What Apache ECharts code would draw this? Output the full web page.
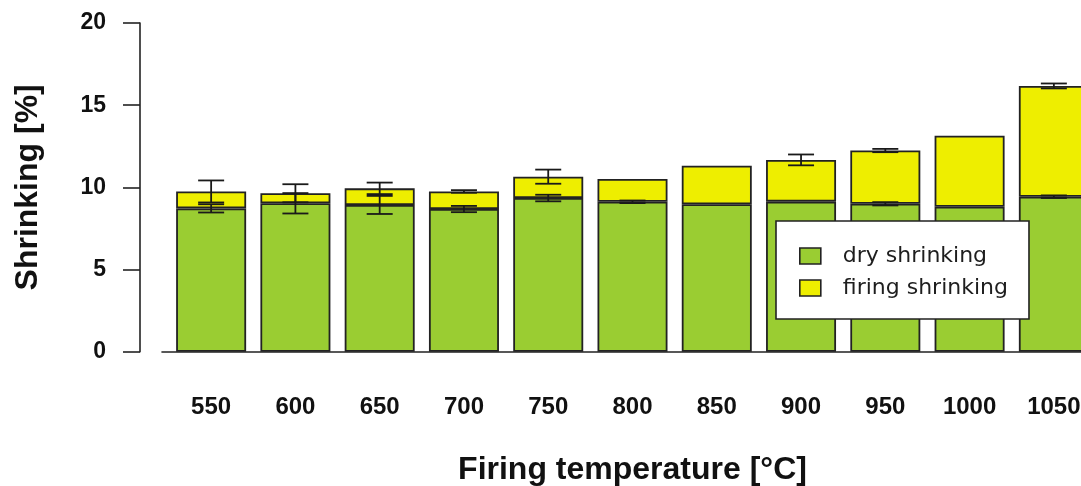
<!DOCTYPE html>
<html>
<head>
<meta charset="utf-8">
<script src="https://cdn.jsdelivr.net/npm/echarts@6/dist/echarts.min.js"></script>
<style>html,body{margin:0;padding:0;background:#fff;}#c{width:1081px;height:486px;}</style>
</head>
<body>
<div id="c"></div>
<script>
const categories = ['550', '600', '650', '700', '750', '800', '850', '900', '950', '1000', '1050'];
const dryShrinking = [8.72, 9.03, 8.93, 8.68, 9.35, 9.12, 8.97, 9.13, 9.00, 8.82, 9.43];
const firingShrinking = [1.03, 0.61, 1.01, 1.07, 1.30, 1.39, 2.35, 2.54, 3.24, 4.32, 6.74];
const dryError = [0.25, 0.62, 0.55, 0.19, 0.20, 0.08, 0, 0, 0.10, 0, 0.08];
const totalError = [0.67, 0.55, 0.35, 0.08, 0.43, 0, 0, 0.33, 0.10, 0, 0.15];
const yMin = 0, yMax = 20, yStep = 5;

const errData = [];
categories.forEach((c, i) => {
  errData.push([i, dryShrinking[i], dryError[i]]);
  errData.push([i, dryShrinking[i] + firingShrinking[i], totalError[i]]);
});

const FONT = '"Liberation Sans", Arial, sans-serif';
const INK = '#222222';

const chart = echarts.init(document.getElementById('c'), null, {renderer: 'canvas'});
chart.setOption({
  animation: false,
  backgroundColor: '#ffffff',
  grid: [
    {left: 169, width: 927, top: 23, height: 328.7, containLabel: false, outerBoundsMode: 'none'},
    {left: 162, width: 934, top: 23, height: 328.7, containLabel: false, outerBoundsMode: 'none'}
  ],
  legend: {
    data: ['dry shrinking', 'firing shrinking'],
    orient: 'vertical',
    left: 776, top: 221,
    padding: [24, 21, 20, 23],
    itemWidth: 21, itemHeight: 16, itemGap: 10,
    icon: 'rect',
    backgroundColor: '#ffffff',
    borderColor: INK, borderWidth: 1.6, borderRadius: 0,
    itemStyle: {borderColor: INK, borderWidth: 1.6},
    textStyle: {fontFamily: '"DejaVu Sans", sans-serif', fontSize: 22, color: '#1e1e1e', padding: [0, 0, 0, 17]}
  },
  xAxis: [
    {
      type: 'category', gridIndex: 0, data: categories,
      boundaryGap: true,
      axisLine: {show: false}, axisTick: {show: false},
      axisLabel: {fontFamily: FONT, fontWeight: 'bold', fontSize: 24, color: '#111', margin: 44},
      name: 'Firing temperature [°C]', nameLocation: 'middle', nameGap: 102,
      nameTextStyle: {fontFamily: FONT, fontWeight: 'bold', fontSize: 32, color: '#111'}
    },
    {
      type: 'value', gridIndex: 1, min: 0, max: 1,
      axisLine: {show: true, lineStyle: {color: INK, width: 1.6}},
      axisTick: {show: false}, axisLabel: {show: false}, splitLine: {show: false}
    }
  ],
  yAxis: [
    {
      type: 'value', gridIndex: 0, min: yMin, max: yMax, interval: yStep,
      offset: 29,
      axisLine: {show: true, lineStyle: {color: INK, width: 1.6}},
      axisTick: {show: true, length: 17, lineStyle: {color: INK, width: 1.6}},
      axisLabel: {fontFamily: FONT, fontWeight: 'bold', fontSize: 23, color: '#111', margin: 34},
      splitLine: {show: false},
      name: 'Shrinking [%]', nameLocation: 'middle', nameGap: 96,
      nameTextStyle: {fontFamily: FONT, fontWeight: 'bold', fontSize: 32, color: '#111'}
    },
    {type: 'value', gridIndex: 1, show: false, min: 0, max: 1}
  ],
  series: [
    {
      name: 'dry shrinking', type: 'bar', stack: 'total', xAxisIndex: 0, yAxisIndex: 0,
      data: dryShrinking, barWidth: 70,
      itemStyle: {color: '#9ACD32', borderColor: INK, borderWidth: 1.8}
    },
    {
      name: 'firing shrinking', type: 'bar', stack: 'total', xAxisIndex: 0, yAxisIndex: 0,
      data: firingShrinking, barWidth: 70,
      itemStyle: {color: '#EEEE00', borderColor: INK, borderWidth: 1.8}
    },
    {
      name: 'errors', type: 'custom', xAxisIndex: 0, yAxisIndex: 0, z: 5,
      data: errData,
      renderItem: function (params, api) {
        const x = api.value(0), c = api.value(1), e = api.value(2);
        if (!e) return null;
        const top = api.coord([x, c + e]);
        const bot = api.coord([x, c - e]);
        const h = 13;
        const st = {stroke: '#1a1a1a', lineWidth: 1.8};
        return {
          type: 'group',
          children: [
            {type: 'line', shape: {x1: top[0], y1: top[1], x2: bot[0], y2: bot[1]}, style: st},
            {type: 'line', shape: {x1: top[0] - h, y1: top[1], x2: top[0] + h, y2: top[1]}, style: st},
            {type: 'line', shape: {x1: bot[0] - h, y1: bot[1], x2: bot[0] + h, y2: bot[1]}, style: st}
          ]
        };
      }
    }
  ]
});
</script>
</body>
</html>
